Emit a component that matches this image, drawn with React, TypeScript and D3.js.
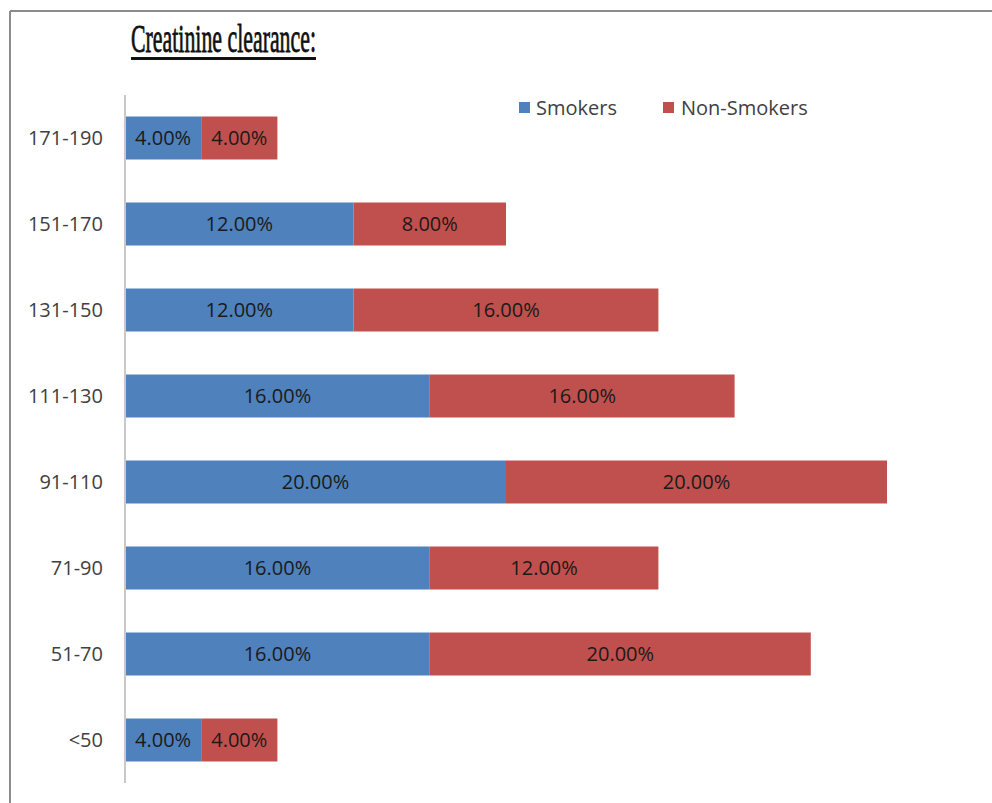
import React from "react";
import * as d3 from "d3";

const categories = ["171-190", "151-170", "131-150", "111-130", "91-110", "71-90", "51-70", "<50"];
const smokers = [4, 12, 12, 16, 20, 16, 16, 4];
const nonSmokers = [4, 8, 16, 16, 20, 12, 20, 4];
const seriesNames = ["Smokers", "Non-Smokers"];
const colors = ["#4F81BD", "#C0504D"];

export default function App() {
  const W = 992, H = 803;
  const x = d3.scaleLinear().domain([0, 40]).range([125, 887]);
  const y = d3.scaleBand().domain(categories).range([95, 783]).paddingInner(0.5).paddingOuter(0.25);
  const rows = categories.map((c, i) => ({ c, s: smokers[i], n: nonSmokers[i] }));
  const font = "'Open Sans', sans-serif";
  const fs = 20;
  return (
    <svg width={W} height={H} style={{ position: "absolute", left: 0, top: 0 }}>
      <rect x={0} y={0} width={W} height={H} fill="#fff" />
      <line x1={10} y1={11} x2={W} y2={11} stroke="#8c8c8c" strokeWidth={2} />
      <line x1={10} y1={11} x2={10} y2={H} stroke="#8c8c8c" strokeWidth={2} />
      <text x={131} y={52} fontFamily="'Liberation Serif', serif" fontSize={40} fontWeight="normal" stroke="#111" strokeWidth={0.8} textLength={185} lengthAdjust="spacingAndGlyphs" fill="#111">Creatinine clearance:</text>
      <line x1={131} y1={58.5} x2={316} y2={58.5} stroke="#111" strokeWidth={3} />
      {rows.map((r) => {
        const y0 = y(r.c)!;
        const h = y.bandwidth();
        return (
          <g key={r.c}>
            <rect x={x(0)} y={y0} width={x(r.s) - x(0)} height={h} fill={colors[0]} />
            <rect x={x(r.s)} y={y0} width={x(r.s + r.n) - x(r.s)} height={h} fill={colors[1]} />
            <text x={(x(0) + x(r.s)) / 2} y={y0 + h / 2} dy="0.36em" textAnchor="middle" fontFamily={font} fontSize={fs} fill="#1a1a1a">{r.s.toFixed(2)}%</text>
            <text x={(x(r.s) + x(r.s + r.n)) / 2} y={y0 + h / 2} dy="0.36em" textAnchor="middle" fontFamily={font} fontSize={fs} fill="#1a1a1a">{r.n.toFixed(2)}%</text>
            <text x={103} y={y0 + h / 2} dy="0.36em" textAnchor="end" fontFamily={font} fontSize={fs} fill="#404040">{r.c}</text>
          </g>
        );
      })}
      <line x1={125} y1={95} x2={125} y2={783} stroke="#c8c8c8" strokeWidth={2} />
      <rect x={519} y={102} width={11} height={11} fill={colors[0]} />
      <text x={536} y={108} dy="0.36em" fontFamily={font} fontSize={fs} fill="#404040">{seriesNames[0]}</text>
      <rect x={663} y={102} width={11} height={11} fill={colors[1]} />
      <text x={681} y={108} dy="0.36em" fontFamily={font} fontSize={fs} fill="#404040">{seriesNames[1]}</text>
    </svg>
  );
}
